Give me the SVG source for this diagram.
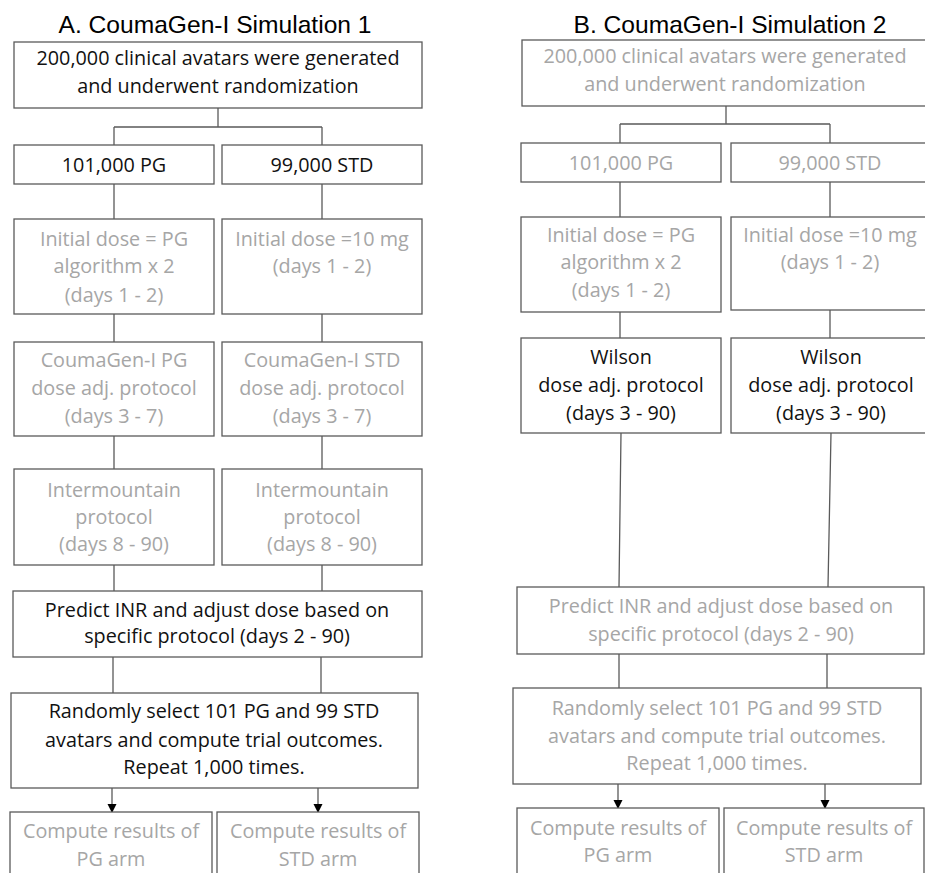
<svg xmlns="http://www.w3.org/2000/svg" width="925" height="873" viewBox="0 0 925 873">
<defs>
<style>
.bx{fill:#fff;stroke:#5a5a5a;stroke-width:1.3}
.ln{fill:none;stroke:#5a5a5a;stroke-width:1.3}
.t{font-family:"Open Sans","Noto Sans",sans-serif;font-size:19.8px;text-anchor:middle}
.k{fill:#111}
.g{fill:#a6a6a6}
.ttl{font-family:"Liberation Sans",Arial,sans-serif;font-size:24.6px;text-anchor:middle;fill:#000}
</style>
<marker id="ah" markerUnits="userSpaceOnUse" markerWidth="10" markerHeight="10" refX="8" refY="4.5" orient="auto">
<path d="M0,0 L9,4.5 L0,9 Z" fill="#000"/>
</marker>
</defs>
<rect width="925" height="873" fill="#fff"/>

<text class="ttl" x="215" y="33">A. CoumaGen-I Simulation 1</text>
<text class="ttl" x="730" y="33">B. CoumaGen-I Simulation 2</text>

<g id="connectors">
<path class="ln" d="M218,108 V127 M114,127 H322 M114,127 V145 M322,127 V145"/>
<path class="ln" d="M114,184 V219 M322,184 V219"/>
<path class="ln" d="M114,314 V342 M322,314 V342"/>
<path class="ln" d="M114,436 V469 M322,436 V469"/>
<path class="ln" d="M114,565 V591 M322,565 V591"/>
<path class="ln" d="M113,657 V693 M321,657 V693"/>
<line class="ln" x1="112" y1="788" x2="112" y2="812" marker-end="url(#ah)"/>
<line class="ln" x1="318" y1="788" x2="318" y2="812" marker-end="url(#ah)"/>

<path class="ln" d="M726,106 V124 M620,124 H830 M620,124 V143 M830,124 V143"/>
<path class="ln" d="M620,182 V217 M830,182 V217"/>
<path class="ln" d="M620,312 V338 M830,310 V338"/>
<path class="ln" d="M621,433 L619,587 M831,433 L828,587"/>
<path class="ln" d="M619,654 V688 M827,654 V688"/>
<line class="ln" x1="618" y1="784" x2="618" y2="808" marker-end="url(#ah)"/>
<line class="ln" x1="825" y1="784" x2="825" y2="808" marker-end="url(#ah)"/>
</g>

<g id="a-start"><rect class="bx" x="14" y="42" width="408" height="66"/>
<text class="t k" x="218" y="65">200,000 clinical avatars were generated</text>
<text class="t k" x="218" y="93">and underwent randomization</text></g>

<g id="a-pg"><rect class="bx" x="14" y="145" width="200" height="39"/>
<text class="t k" x="114" y="172">101,000 PG</text></g>
<g id="a-std"><rect class="bx" x="222" y="145" width="200" height="39"/>
<text class="t k" x="322" y="172">99,000 STD</text></g>

<g id="a-init-pg"><rect class="bx" x="14" y="219" width="200" height="95"/>
<text class="t g" x="114" y="246">Initial dose = PG</text>
<text class="t g" x="114" y="273">algorithm x 2</text>
<text class="t g" x="114" y="302">(days 1 - 2)</text></g>
<g id="a-init-std"><rect class="bx" x="222" y="219" width="200" height="95"/>
<text class="t g" x="322" y="246">Initial dose =10 mg</text>
<text class="t g" x="322" y="273">(days 1 - 2)</text></g>

<g id="a-adj-pg"><rect class="bx" x="14" y="342" width="200" height="94"/>
<text class="t g" x="114" y="367">CoumaGen-I PG</text>
<text class="t g" x="114" y="395">dose adj. protocol</text>
<text class="t g" x="114" y="423">(days 3 - 7)</text></g>
<g id="a-adj-std"><rect class="bx" x="222" y="342" width="200" height="94"/>
<text class="t g" x="322" y="367">CoumaGen-I STD</text>
<text class="t g" x="322" y="395">dose adj. protocol</text>
<text class="t g" x="322" y="423">(days 3 - 7)</text></g>

<g id="a-im-pg"><rect class="bx" x="14" y="469" width="200" height="96"/>
<text class="t g" x="114" y="497">Intermountain</text>
<text class="t g" x="114" y="524">protocol</text>
<text class="t g" x="114" y="551">(days 8 - 90)</text></g>
<g id="a-im-std"><rect class="bx" x="222" y="469" width="200" height="96"/>
<text class="t g" x="322" y="497">Intermountain</text>
<text class="t g" x="322" y="524">protocol</text>
<text class="t g" x="322" y="551">(days 8 - 90)</text></g>

<g id="a-predict"><rect class="bx" x="13" y="591" width="409" height="66"/>
<text class="t k" x="217" y="617">Predict INR and adjust dose based on</text>
<text class="t k" x="217" y="643">specific protocol (days 2 - 90)</text></g>

<g id="a-random"><rect class="bx" x="11" y="693" width="407" height="95"/>
<text class="t k" x="214" y="718">Randomly select 101 PG and 99 STD</text>
<text class="t k" x="214" y="747">avatars and compute trial outcomes.</text>
<text class="t k" x="214" y="774">Repeat 1,000 times.</text></g>

<g id="a-res-pg"><rect class="bx" x="10" y="812" width="202" height="75"/>
<text class="t g" x="111" y="838">Compute results of</text>
<text class="t g" x="111" y="866">PG arm</text></g>
<g id="a-res-std"><rect class="bx" x="217" y="812" width="202" height="75"/>
<text class="t g" x="318" y="838">Compute results of</text>
<text class="t g" x="318" y="866">STD arm</text></g>

<g id="b-start"><rect class="bx" x="522" y="40" width="412" height="66"/>
<text class="t g" x="725" y="63">200,000 clinical avatars were generated</text>
<text class="t g" x="725" y="91">and underwent randomization</text></g>

<g id="b-pg"><rect class="bx" x="521" y="143" width="200" height="39"/>
<text class="t g" x="621" y="170">101,000 PG</text></g>
<g id="b-std"><rect class="bx" x="731" y="143" width="200" height="39"/>
<text class="t g" x="830" y="170">99,000 STD</text></g>

<g id="b-init-pg"><rect class="bx" x="521" y="217" width="200" height="95"/>
<text class="t g" x="621" y="242">Initial dose = PG</text>
<text class="t g" x="621" y="269">algorithm x 2</text>
<text class="t g" x="621" y="297">(days 1 - 2)</text></g>
<g id="b-init-std"><rect class="bx" x="731" y="217" width="200" height="93"/>
<text class="t g" x="830" y="242">Initial dose =10 mg</text>
<text class="t g" x="830" y="269">(days 1 - 2)</text></g>

<g id="b-wilson-pg"><rect class="bx" x="521" y="338" width="200" height="95"/>
<text class="t k" x="621" y="364">Wilson</text>
<text class="t k" x="621" y="392">dose adj. protocol</text>
<text class="t k" x="621" y="420">(days 3 - 90)</text></g>
<g id="b-wilson-std"><rect class="bx" x="731" y="338" width="200" height="95"/>
<text class="t k" x="831" y="364">Wilson</text>
<text class="t k" x="831" y="392">dose adj. protocol</text>
<text class="t k" x="831" y="420">(days 3 - 90)</text></g>

<g id="b-predict"><rect class="bx" x="517" y="587" width="407" height="67"/>
<text class="t g" x="721" y="613">Predict INR and adjust dose based on</text>
<text class="t g" x="721" y="641">specific protocol (days 2 - 90)</text></g>

<g id="b-random"><rect class="bx" x="513" y="688" width="408" height="96"/>
<text class="t g" x="717" y="715">Randomly select 101 PG and 99 STD</text>
<text class="t g" x="717" y="743">avatars and compute trial outcomes.</text>
<text class="t g" x="717" y="770">Repeat 1,000 times.</text></g>

<g id="b-res-pg"><rect class="bx" x="517" y="808" width="202" height="75"/>
<text class="t g" x="618" y="835">Compute results of</text>
<text class="t g" x="618" y="862">PG arm</text></g>
<g id="b-res-std"><rect class="bx" x="724" y="808" width="200" height="75"/>
<text class="t g" x="824" y="835">Compute results of</text>
<text class="t g" x="824" y="862">STD arm</text></g>
</svg>
